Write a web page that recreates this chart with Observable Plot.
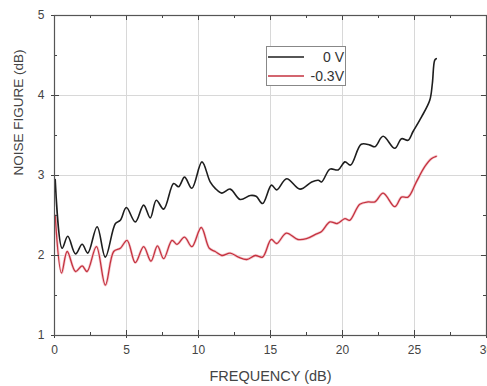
<!DOCTYPE html>
<html>
<head>
<meta charset="utf-8">
<script src="https://cdn.jsdelivr.net/npm/d3@7"></script>
<script src="https://cdn.jsdelivr.net/npm/@observablehq/plot@0.6"></script>
<style>
  body { margin: 0; background: #fff; }
  #wrap { position: relative; width: 487px; height: 386px; font-family: "Liberation Sans", Arial, sans-serif; }
  #legend { position: absolute; left: 266px; top: 46px; width: 78px; height: 38px; border: 1px solid #888; background: #fff; }
</style>
</head>
<body>
<div id="wrap"></div>
<script>
// Series: 0 V (black)
const blackX = [0.05, 0.53, 0.92, 1.46, 1.92, 2.31, 2.96, 3.53, 4.23, 4.57, 4.99, 5.61, 6.19, 6.65, 7.07, 7.58, 8.27, 8.62, 9.03, 9.54, 10.24, 10.81, 11.16, 11.62, 12.2, 12.9, 13.6, 14.0, 14.45, 15.07, 15.43, 16.12, 17.05, 17.86, 18.32, 18.55, 19.13, 19.7, 20.17, 20.56, 21.3, 21.9, 22.25, 22.82, 23.63, 24.1, 24.55, 24.9, 25.48, 26.06, 26.24, 26.4, 26.51];
const blackY = [2.95, 2.09, 2.24, 2.02, 2.14, 2.03, 2.36, 1.98, 2.40, 2.44, 2.60, 2.42, 2.63, 2.47, 2.69, 2.58, 2.90, 2.86, 2.98, 2.84, 3.17, 2.92, 2.84, 2.78, 2.83, 2.70, 2.75, 2.74, 2.65, 2.88, 2.82, 2.96, 2.83, 2.92, 2.94, 2.92, 3.08, 3.07, 3.17, 3.13, 3.39, 3.38, 3.36, 3.49, 3.34, 3.46, 3.44, 3.55, 3.73, 3.94, 4.15, 4.44, 4.46];
// Series: -0.3V (red)
const redX = [0.05, 0.49, 0.88, 1.46, 1.92, 2.26, 2.91, 3.53, 4.11, 4.57, 5.04, 5.61, 6.19, 6.7, 7.15, 7.58, 8.16, 8.5, 9.03, 9.54, 10.19, 10.75, 11.16, 11.62, 12.2, 12.77, 13.35, 13.95, 14.45, 15.05, 15.43, 16.1, 16.9, 17.5, 18.2, 18.55, 19.13, 19.63, 20.17, 20.5, 21.2, 21.78, 22.25, 22.82, 23.63, 24.1, 24.55, 25.13, 25.71, 26.17, 26.51];
const redY = [2.50, 1.78, 2.05, 1.80, 1.87, 1.80, 2.11, 1.63, 2.05, 2.09, 2.19, 1.91, 2.11, 1.93, 2.12, 1.96, 2.19, 2.14, 2.23, 2.11, 2.35, 2.09, 2.05, 2.00, 2.03, 1.98, 1.95, 2.00, 1.98, 2.20, 2.15, 2.28, 2.20, 2.21, 2.27, 2.30, 2.42, 2.40, 2.46, 2.44, 2.64, 2.67, 2.67, 2.78, 2.61, 2.73, 2.73, 2.92, 3.11, 3.21, 3.24];

const seriesNames = ["0 V", "-0.3V"];
const seriesColors = ["#1e1e1e", "#c4323f"];

const xTicks = [0, 5, 10, 15, 20, 25, 30];
const xMinor = [2.5, 7.5, 12.5, 17.5, 22.5, 27.5];
const yTicks = [1, 2, 3, 4, 5];
const yMinor = [1.5, 2.5, 3.5, 4.5];
const xGrid = [5, 10, 15, 20, 25];
const yGrid = [2, 3, 4];

const black = blackX.map((x, i) => ({x, y: blackY[i]}));
const red = redX.map((x, i) => ({x, y: redY[i]}));

const W = 487, H = 386, mL = 54, mR = 1, mT = 15, mB = 51;
const iW = W - mL - mR, iH = H - mT - mB;

const chart = Plot.plot({
  width: W, height: H,
  marginLeft: mL, marginRight: mR, marginTop: mT, marginBottom: mB,
  style: {fontFamily: "'Liberation Sans', Arial, sans-serif", fontSize: "12px", color: "#333", background: "#fff"},
  x: {domain: [0, 30]},
  y: {domain: [1, 5]},
  marks: [
    Plot.ruleX(xGrid, {stroke: "#d8d8d8", strokeWidth: 1}),
    Plot.ruleY(yGrid, {stroke: "#d8d8d8", strokeWidth: 1}),
    Plot.line(red, {x: "x", y: "y", stroke: "#f6cdd2", strokeWidth: 2.8, curve: "catmull-rom"}),
    Plot.line(red, {x: "x", y: "y", stroke: seriesColors[1], strokeWidth: 1.3, curve: "catmull-rom"}),
    Plot.line(black, {x: "x", y: "y", stroke: seriesColors[0], strokeWidth: 1.6, curve: "catmull-rom"}),
    // inward ticks: bottom, top
    Plot.tickX(xTicks, {x: d => d, insetTop: iH - 5, stroke: "#444"}),
    Plot.tickX(xMinor, {x: d => d, insetTop: iH - 3, stroke: "#444"}),
    Plot.tickX(xTicks, {x: d => d, insetBottom: iH - 5, stroke: "#444"}),
    Plot.tickX(xMinor, {x: d => d, insetBottom: iH - 3, stroke: "#444"}),
    // inward ticks: left, right
    Plot.tickY(yTicks, {y: d => d, insetRight: iW - 5, stroke: "#444"}),
    Plot.tickY(yMinor, {y: d => d, insetRight: iW - 3, stroke: "#444"}),
    Plot.tickY(yTicks, {y: d => d, insetLeft: iW - 5, stroke: "#444"}),
    Plot.tickY(yMinor, {y: d => d, insetLeft: iW - 3, stroke: "#444"}),
    Plot.axisX({ticks: xTicks, tickSize: 3, tickPadding: 7, stroke: "#444", fill: "#444", tickFormat: d3.format("d"),
      label: null}),
    Plot.axisY({ticks: yTicks, tickSize: 3, tickPadding: 7, stroke: "#444", fill: "#444", tickFormat: d3.format("d"),
      label: null}),
    Plot.text(["FREQUENCY (dB)"], {frameAnchor: "bottom", dy: 41, fontSize: 14.5, fill: "#444", lineAnchor: "middle"}),
    Plot.text(["NOISE FIGURE (dB)"], {frameAnchor: "left", dx: -36, rotate: -90, fontSize: 13.5, fill: "#444", lineAnchor: "middle"}),
    Plot.frame({stroke: "#555", strokeWidth: 1.2})
  ]
});

const wrap = document.getElementById("wrap");
wrap.appendChild(chart);

// Legend
const legend = document.createElement("div");
legend.id = "legend";
const ns = "http://www.w3.org/2000/svg";
const lsvg = document.createElementNS(ns, "svg");
lsvg.setAttribute("width", 78); lsvg.setAttribute("height", 38);
seriesNames.forEach((name, i) => {
  const yy = 10 + i * 19;
  const ln = document.createElementNS(ns, "line");
  ln.setAttribute("x1", 1); ln.setAttribute("x2", 37);
  ln.setAttribute("y1", yy); ln.setAttribute("y2", yy);
  ln.setAttribute("stroke", seriesColors[i]); ln.setAttribute("stroke-width", 1.6);
  lsvg.appendChild(ln);
  const tx = document.createElementNS(ns, "text");
  tx.setAttribute("x", 77); tx.setAttribute("y", yy + 5);
  tx.setAttribute("text-anchor", "end");
  tx.setAttribute("font-size", "14");
  tx.setAttribute("font-family", "'Liberation Sans', Arial, sans-serif");
  tx.setAttribute("fill", "#333");
  tx.textContent = name;
  lsvg.appendChild(tx);
});
legend.appendChild(lsvg);
wrap.appendChild(legend);
</script>
</body>
</html>
